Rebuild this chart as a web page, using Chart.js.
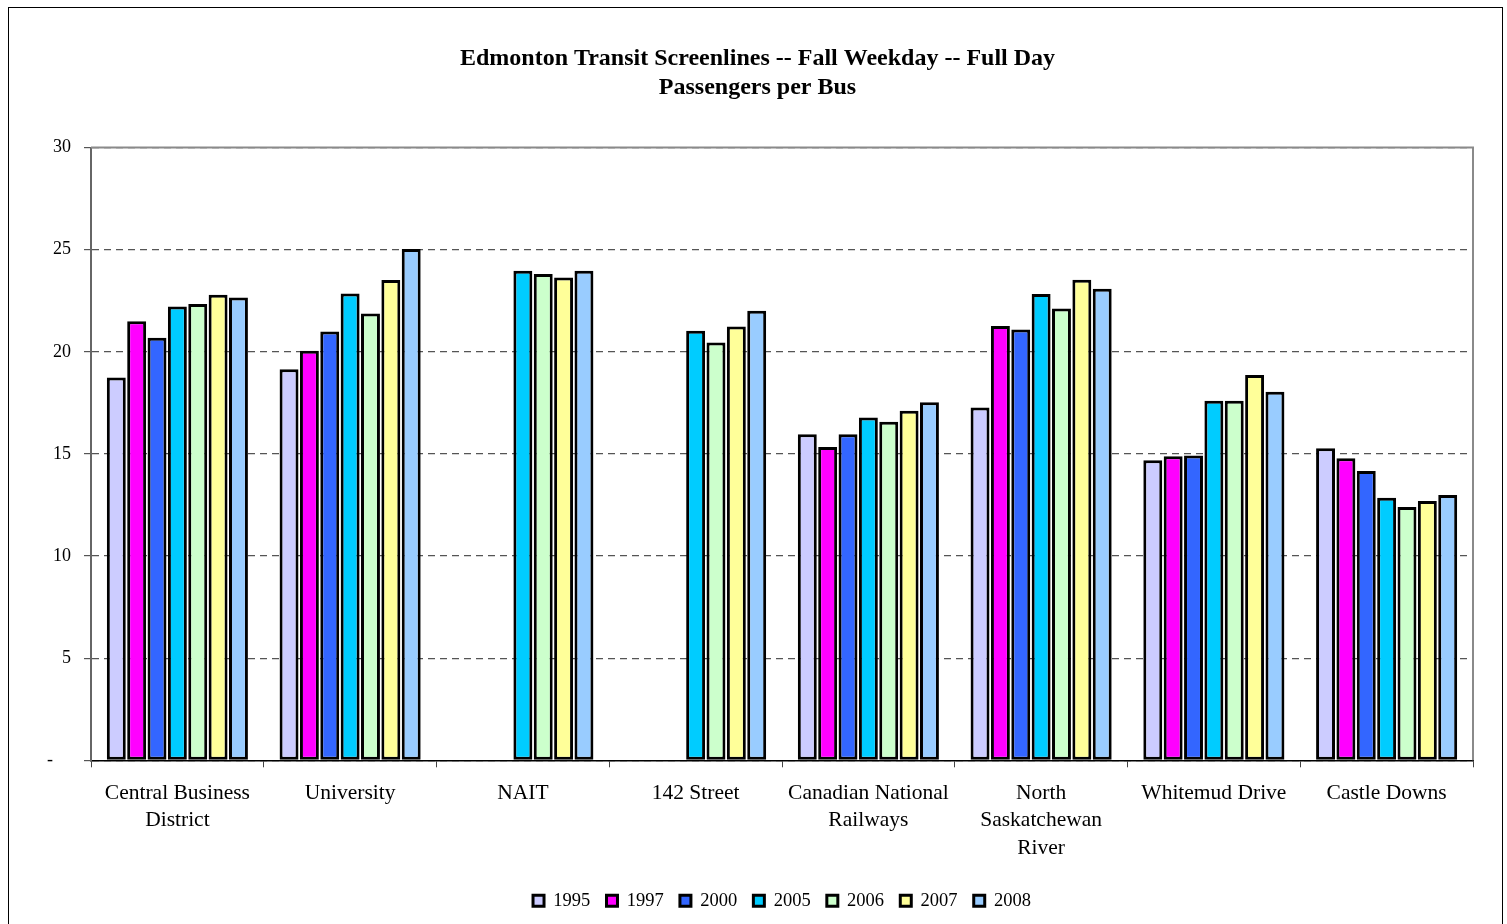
<!DOCTYPE html>
<html>
<head>
<meta charset="utf-8">
<title>Edmonton Transit Screenlines</title>
<script src="https://cdn.jsdelivr.net/npm/chart.js@4.4.1/dist/chart.umd.min.js"></script>
<style>
  html, body { margin: 0; padding: 0; background: #fff; }
  #wrap { width: 1507px; height: 924px; }
</style>
</head>
<body>
<div id="wrap"><canvas id="c" width="1507" height="924"></canvas></div>
<script>
// Screenline categories (multi-line labels)
const screenlines = [
  ["Central Business", "District"],
  ["University"],
  ["NAIT"],
  ["142 Street"],
  ["Canadian National", "Railways"],
  ["North", "Saskatchewan", "River"],
  ["Whitemud Drive"],
  ["Castle Downs"]
];

// Passengers per bus, by survey year
const y1995 = [18.74, 19.15, null, null, 15.96, 17.27, 14.69, 15.28];
const y1997 = [21.49, 20.05, null, null, 15.34, 21.26, 14.89, 14.79];
const y2000 = [20.69, 21.00, null, null, 15.96, 21.09, 14.92, 14.17];
const y2005 = [22.22, 22.86, 23.97, 21.03, 16.78, 22.83, 17.60, 12.86];
const y2006 = [22.34, 21.88, 23.81, 20.46, 16.57, 22.12, 17.60, 12.40];
const y2007 = [22.79, 23.51, 23.64, 21.24, 17.11, 23.53, 18.87, 12.70];
const y2008 = [22.66, 25.03, 23.97, 22.01, 17.53, 23.09, 18.05, 12.99];

const yearLabels = ["1995", "1997", "2000", "2005", "2006", "2007", "2008"];
const yearColors = ["#CCCCFF", "#FF00FF", "#3366FF", "#00CCFF", "#CCFFCC", "#FFFF99", "#99CCFF"];
const yearSeries = [y1995, y1997, y2000, y2005, y2006, y2007, y2008];

const yTicks = [0, 5, 10, 15, 20, 25, 30];

const SERIF = "'Liberation Serif', 'Times New Roman', serif";

// Page frame, white background and the grey plot border
const framePlugin = {
  id: 'frame',
  beforeDraw(chart) {
    const ctx = chart.ctx;
    ctx.save();
    ctx.fillStyle = '#fff';
    ctx.fillRect(0, 0, chart.width, chart.height);
    ctx.strokeStyle = '#000';
    ctx.lineWidth = 1;
    ctx.strokeRect(8.5, 7.5, 1494, 940);
    ctx.restore();
  },
  beforeDatasetsDraw(chart) {
    const {ctx, chartArea: a} = chart;
    ctx.save();
    ctx.strokeStyle = '#8a8a8a';
    ctx.lineWidth = 2;
    ctx.beginPath();
    ctx.moveTo(a.left, a.top);
    ctx.lineTo(a.right, a.top);
    ctx.lineTo(a.right, a.bottom);
    ctx.stroke();
    ctx.restore();
  }
};

new Chart(document.getElementById('c'), {
  type: 'bar',
  data: {
    labels: screenlines,
    datasets: yearSeries.map((vals, i) => ({
      label: yearLabels[i],
      data: vals,
      backgroundColor: yearColors[i],
      borderColor: '#000',
      borderWidth: 3,
      borderSkipped: false,
      categoryPercentage: 0.825,
      barPercentage: 0.93
    }))
  },
  options: {
    responsive: false,
    animation: false,
    devicePixelRatio: 1,
    layout: { padding: { left: 42, right: 34, top: 0, bottom: 4 } },
    plugins: {
      title: {
        display: true,
        text: ["Edmonton Transit Screenlines -- Fall Weekday -- Full Day", "Passengers per Bus"],
        color: '#000',
        font: { family: SERIF, size: 24, weight: 'bold', lineHeight: 1.22 },
        padding: { top: 44, bottom: 45 }
      },
      legend: {
        position: 'bottom',
        fullSize: false,
        labels: {
          color: '#000',
          font: { family: SERIF, size: 18.5 },
          boxWidth: 11,
          boxHeight: 11,
          padding: 16.2
        }
      },
      tooltip: { enabled: false }
    },
    scales: {
      x: {
        grid: {
          offset: true,
          drawOnChartArea: false,
          drawTicks: true,
          tickLength: 7,
          tickColor: '#444',
          tickWidth: 1
        },
        border: { display: true, color: '#000', width: 1.5 },
        ticks: {
          color: '#000',
          font: { family: SERIF, size: 21.5, lineHeight: 1.28 },
          padding: 12,
          maxRotation: 0,
          autoSkip: false
        },
        afterFit(scale) { scale.height = 115; }
      },
      y: {
        min: 0,
        max: 30,
        afterBuildTicks(scale) { scale.ticks = yTicks.map(v => ({ value: v })); },
        grid: {
          color: '#555',
          lineWidth: 1.2,
          drawTicks: true,
          tickLength: 7,
          tickColor: '#555',
          tickWidth: 1.2
        },
        border: { display: true, color: '#666', width: 2, dash: [7, 5] },
        ticks: {
          color: '#000',
          font: { family: SERIF, size: 18 },
          padding: 13,
          callback: v => (v === 0 ? '-    ' : String(v))
        },
        afterFit(scale) { scale.width = 49; }
      }
    }
  },
  plugins: [framePlugin]
});
</script>
</body>
</html>
